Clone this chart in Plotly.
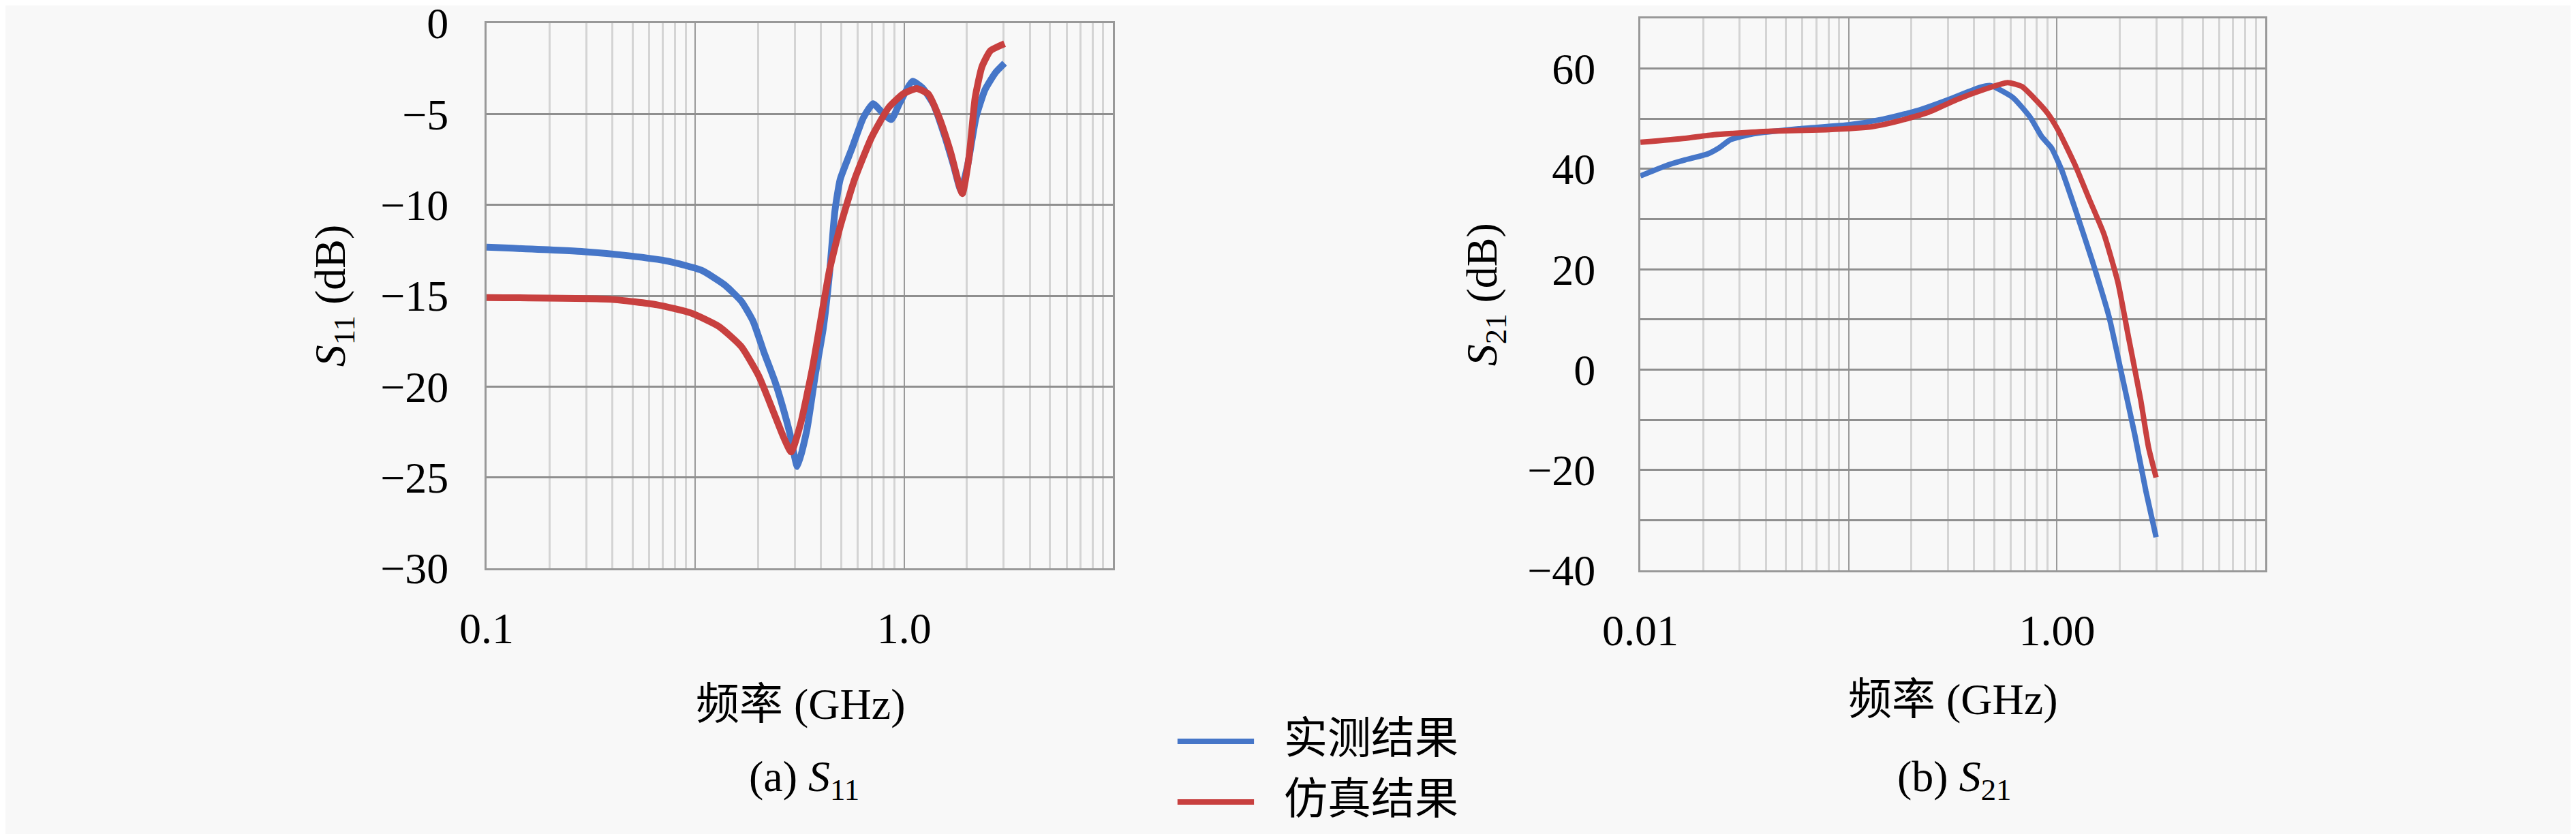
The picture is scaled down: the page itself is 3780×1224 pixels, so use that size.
import plotly.graph_objects as go

# S11 (left panel), frequency in GHz
s11_meas_f = [0.01, 0.029, 0.048, 0.074, 0.107, 0.138, 0.166, 0.189, 0.213, 0.242, 0.265, 0.284,
              0.308, 0.342, 0.375, 0.41, 0.439, 0.466, 0.494, 0.562, 0.638, 0.71, 0.794, 0.869,
              0.952, 1.097, 1.227, 1.387, 1.574, 1.723, 1.871, 2.017, 2.21, 2.44, 2.75, 3.03]
s11_meas_db = [-12.33, -12.57, -12.8, -13.1, -13.6, -14.4, -15.3, -16.4, -18.1, -19.8, -21.3, -22.6,
               -24.4, -22.4, -19.4, -16.8, -13.8, -10.35, -8.6, -6.9, -5.2, -4.43, -4.97, -5.3,
               -4.4, -3.2, -3.57, -4.5, -6.3, -7.8, -9.2, -7.8, -5.2, -3.67, -2.7, -2.2]

s11_sim_f = [0.01, 0.0395, 0.0655, 0.0953, 0.13, 0.166, 0.201, 0.235, 0.265, 0.288, 0.32, 0.364,
             0.398, 0.439, 0.494, 0.579, 0.70, 0.844, 0.988, 1.149, 1.306, 1.473, 1.671, 1.9,
             2.05, 2.19, 2.36, 2.59, 3.03]
s11_sim_db = [-15.1, -15.2, -15.5, -15.95, -16.7, -17.8, -19.4, -21.3, -22.8, -23.6, -22.0, -18.97,
              -16.4, -13.6, -11.2, -8.6, -6.26, -4.64, -3.9, -3.6, -3.9, -5.2, -7.1, -9.38,
              -7.3, -4.1, -2.4, -1.52, -1.13]

# S21 (right panel)
s21_meas_f = [0.01, 0.0136, 0.0164, 0.0211, 0.0239, 0.027, 0.0349, 0.0575, 0.101, 0.146, 0.213,
              0.31, 0.423, 0.48, 0.615, 0.743, 0.845, 0.94, 1.05, 1.22, 1.475, 1.78, 2.02, 2.36,
              2.67, 2.99]
s21_meas_db = [38.6, 40.8, 41.8, 43.0, 44.2, 45.8, 47.0, 48.0, 48.8, 49.9, 51.6,
               54.0, 56.2, 56.6, 54.2, 50.3, 46.4, 44.2, 39.9, 32.1, 21.7, 10.4, 0.05, -12.9,
               -24.2, -33.4]

s21_sim_f = [0.01, 0.0164, 0.0225, 0.0422, 0.078, 0.129, 0.176, 0.242, 0.33, 0.452, 0.579, 0.679,
             0.789, 0.897, 1.01, 1.22, 1.43, 1.68, 1.96, 2.21, 2.52, 2.75, 2.99]
s21_sim_db = [45.3, 46.1, 46.8, 47.5, 47.8, 48.4, 49.6, 51.3, 53.8, 55.9, 57.2, 56.4,
              53.8, 51.2, 47.8, 40.8, 33.9, 27.0, 17.4, 6.2, -6.0, -15.5, -21.5]

series_names = ['实测结果', '仿真结果']
blue = '#4676c8'
red = '#c8403f'

# tick labels
x_tickvals = [0.01, 0.1, 1, 10]
s11_x_ticktext = ['0.1', '', '1.0', '']
s21_x_ticktext = ['0.01', '', '1.00', '']
s11_y_tickvals = [-30, -25, -20, -15, -10, -5, 0]
s11_y_ticktext = ['−30', '−25', '−20', '−15', '−10', '−5', '0']
s21_y_tickvals = [-40, -30, -20, -10, 0, 10, 20, 30, 40, 50, 60, 70]
s21_y_ticktext = ['−40', '', '−20', '', '0', '', '20', '', '40', '', '60', '']

minor_vals = [m * 10 ** e for e in range(-2, 1) for m in range(2, 10)]

FONT = 'Liberation Serif, Noto Sans CJK SC'
FS = 64
BG = '#f8f8f8'
# the page body adds an 8px offset; pull everything back by that much
DX = -8 / 3780
DY = 8 / 1224

fig = go.Figure()

fig.add_trace(go.Scatter(x=s11_meas_f, y=s11_meas_db, name=series_names[0], mode='lines',
                         line=dict(color=blue, width=10, shape='spline', smoothing=0.5),
                         xaxis='x', yaxis='y', showlegend=False))
fig.add_trace(go.Scatter(x=s11_sim_f, y=s11_sim_db, name=series_names[1], mode='lines',
                         line=dict(color=red, width=10, shape='spline', smoothing=0.5),
                         xaxis='x', yaxis='y', showlegend=False))
fig.add_trace(go.Scatter(x=s21_meas_f, y=s21_meas_db, name=series_names[0], mode='lines',
                         line=dict(color=blue, width=8, shape='spline', smoothing=0.5),
                         xaxis='x2', yaxis='y2', showlegend=False))
fig.add_trace(go.Scatter(x=s21_sim_f, y=s21_sim_db, name=series_names[1], mode='lines',
                         line=dict(color=red, width=8, shape='spline', smoothing=0.5),
                         xaxis='x2', yaxis='y2', showlegend=False))

xcommon = dict(type='log', range=[-2, 1], tickmode='array', tickvals=x_tickvals,
               showgrid=True, gridcolor='#9a9a9a', gridwidth=2,
               minor=dict(tickmode='array', tickvals=minor_vals, showgrid=True,
                          gridcolor='#d4d4d4', gridwidth=3),
               showline=True, mirror=True, linecolor='#999999', linewidth=3,
               zeroline=False, ticks='', ticklabelstandoff=30, automargin=False,
               ticklabeloverflow='allow',
               tickfont=dict(family=FONT, size=FS, color='black'))
ycommon = dict(tickmode='array', showgrid=True, gridcolor='#8f8f8f', gridwidth=3,
               showline=True, mirror=True, linecolor='#999999', linewidth=3,
               zeroline=False, ticks='', automargin=False, ticklabeloverflow='allow',
               tickfont=dict(family=FONT, size=FS, color='black'))

fig.update_layout(
    width=3780, height=1224,
    margin=dict(l=0, r=0, t=0, b=0, autoexpand=False),
    paper_bgcolor=BG, plot_bgcolor=BG,
    showlegend=False,
    xaxis=dict(xcommon, domain=[0.1889 + DX, 0.4320 + DX], ticktext=s11_x_ticktext, anchor='y'),
    yaxis=dict(ycommon, domain=[0.3186 + DY, 0.9722 + DY], range=[-30, 0],
               tickvals=s11_y_tickvals, ticktext=s11_y_ticktext, ticklabelstandoff=40,
               anchor='x'),
    xaxis2=dict(xcommon, domain=[0.6368 + DX, 0.8794 + DX], ticktext=s21_x_ticktext,
                anchor='y2'),
    yaxis2=dict(ycommon, domain=[0.3162 + DY, 0.978 + DY], range=[-40, 70],
                tickvals=s21_y_tickvals, ticktext=s21_y_ticktext, ticklabelstandoff=50,
                anchor='x2'),
)

tfont = dict(family=FONT, size=FS, color='black')
annos = [
    dict(x=0.1294, y=0.6454, text='<i>S</i><sub>11</sub> (dB)', textangle=-90),
    dict(x=0.5765, y=0.647, text='<i>S</i><sub>21</sub> (dB)', textangle=-90),
    dict(x=0.3106, y=0.156, text='频率 (GHz)'),
    dict(x=0.7582, y=0.161, text='频率 (GHz)'),
    dict(x=0.3122, y=0.065, text='(a) <i>S</i><sub>11</sub>'),
    dict(x=0.7585, y=0.065, text='(b) <i>S</i><sub>21</sub>'),
]
for a in annos:
    a['x'] += DX
    a['y'] += DY
    fig.add_annotation(xref='paper', yref='paper', showarrow=False, font=tfont,
                       xanchor='center', yanchor='middle', **a)

# legend drawn by hand (long line samples)
for name, color, ly in [(series_names[0], blue, 0.1111 + DY), (series_names[1], red, 0.0384 + DY)]:
    fig.add_shape(type='line', xref='paper', yref='paper', x0=0.4571 + DX, x1=0.4868 + DX,
                  y0=ly, y1=ly, line=dict(color=color, width=8))
    fig.add_annotation(xref='paper', yref='paper', x=0.4979 + DX, y=ly + 0.004, text=name,
                       showarrow=False, xanchor='left', yanchor='middle', font=tfont)

fig.write_html("out.html")
